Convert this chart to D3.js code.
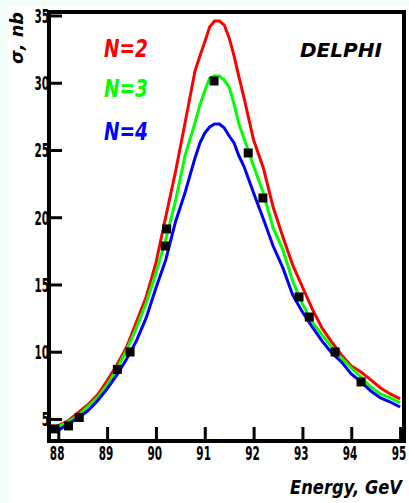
<!DOCTYPE html>
<html>
<head>
<meta charset="utf-8">
<script src="https://cdn.jsdelivr.net/npm/d3@7"></script>
<style>
  body { margin: 0; background: #f2fff9; }
  svg { display: block; }
</style>
</head>
<body>
<svg id="chart" width="409" height="503"></svg>
<script>
  // energies where the curves were read (GeV)
  var energy = [87.95, 88.2, 88.4, 88.6, 88.8, 89.0, 89.2, 89.4, 89.6, 89.8, 90.0,
                90.2, 90.4, 90.6, 90.8, 90.9, 91.0, 91.1, 91.2, 91.3, 91.4, 91.5,
                91.6, 91.7, 91.8, 92.0, 92.2, 92.4, 92.6, 92.8, 93.0, 93.2, 93.4,
                93.6, 93.8, 94.0, 94.2, 94.4, 94.6, 94.8, 95.0];

  // cross section, nb
  var sigmaN2 = [4.41, 4.85, 5.45, 6.04, 6.78, 7.83, 9.01, 10.35, 12.21, 14.07, 16.60,
                 20.02, 23.36, 27.08, 30.87, 31.99, 33.03, 34.14, 34.59, 34.59, 34.29, 33.33,
                 31.99, 30.43, 28.94, 25.74, 23.66, 20.76, 18.53, 16.45, 14.81, 13.18, 11.77,
                 10.72, 9.76, 8.94, 8.49, 7.90, 7.30, 6.86, 6.49];
  var sigmaN3 = [4.33, 4.78, 5.22, 5.89, 6.56, 7.53, 8.72, 10.13, 11.77, 13.62, 15.86,
                 18.31, 21.21, 24.63, 27.01, 28.35, 29.39, 30.35, 30.50, 30.50, 30.20, 29.68,
                 28.42, 26.93, 25.89, 23.81, 21.80, 19.20, 17.57, 15.26, 13.55, 12.21, 11.25,
                 10.35, 9.54, 8.79, 8.12, 7.38, 6.86, 6.56, 6.19];
  var sigmaN4 = [4.03, 4.63, 5.07, 5.59, 6.34, 7.23, 8.27, 9.46, 10.80, 12.51, 14.74,
                 16.82, 19.65, 21.88, 24.41, 25.52, 26.26, 26.71, 26.93, 26.93, 26.64, 26.04,
                 25.52, 24.55, 23.81, 21.80, 19.87, 17.86, 16.23, 14.22, 12.96, 11.84, 10.80,
                 9.91, 9.24, 8.35, 7.75, 7.08, 6.56, 6.26, 5.89];

  // measured points
  var dataE     = [87.93, 88.21, 88.43, 89.21, 89.47, 90.22, 90.19, 91.19, 91.89, 92.19, 92.93, 93.14, 93.67, 94.20];
  var dataSigma = [4.26, 4.48, 5.11, 8.68, 9.98, 19.13, 17.86, 30.13, 24.78, 21.43, 14.07, 12.58, 9.98, 7.75];

  var xTicks = [88, 89, 90, 91, 92, 93, 94, 95];
  var yTicks = [5, 10, 15, 20, 25, 30, 35];
  var curveNames = ["N=2", "N=3", "N=4"];
  var curveColors = ["#ff0000", "#00ff00", "#0000ff"];

  var svg = d3.select("#chart");

  svg.append("rect")
      .attr("x", 8).attr("y", 6)
      .attr("width", 401).attr("height", 497)
      .attr("fill", "#ffffff");

  var xScale = d3.scaleLinear().domain([87.81, 95.08]).range([49, 404]);
  var yScale = d3.scaleLinear().domain([3.36, 35.26]).range([441, 12]);

  ////// curves /////////////
  var line = d3.line()
      .x(function(d) { return xScale(d.e); })
      .y(function(d) { return yScale(d.s); });

  [sigmaN2, sigmaN3, sigmaN4].forEach(function(series, i) {
    var pts = energy.map(function(e, j) { return {e: e, s: series[j]}; });
    svg.append("path")
        .datum(pts)
        .attr("fill", "none")
        .attr("stroke", curveColors[i])
        .attr("stroke-width", 3)
        .attr("d", line);
  });

  // data points
  svg.append("g")
      .selectAll("rect")
      .data(dataE)
      .enter()
      .append("rect")
      .attr("x", function(d) { return xScale(d) - 4.5; })
      .attr("y", function(d, i) { return yScale(dataSigma[i]) - 4.5; })
      .attr("width", 9)
      .attr("height", 9)
      .attr("fill", "#000");

  ////// axes /////////////
  var xMinor = d3.range(87.8, 95.05, 0.2).filter(function(v) {
    return Math.abs(v - Math.round(v)) > 0.05;
  });
  var yMinor = d3.range(4, 35.5, 1).filter(function(v) { return v % 5 != 0; });

  var gx = svg.append("g").attr("transform", "translate(0,441)");
  gx.call(d3.axisBottom(xScale).tickValues(xMinor).tickSize(-7).tickFormat(""));
  gx.call(d3.axisBottom(xScale).tickValues(xTicks).tickSize(-14).tickFormat(d3.format("d")));

  var gy = svg.append("g").attr("transform", "translate(49,0)");
  gy.call(d3.axisLeft(yScale).tickValues(yMinor).tickSize(-6).tickFormat(""));
  gy.call(d3.axisLeft(yScale).tickValues(yTicks).tickSize(-13).tickFormat(d3.format("d")));

  svg.selectAll(".domain").remove();
  svg.selectAll(".tick line").attr("stroke", "#000").attr("stroke-width", 3);
  svg.selectAll(".tick text")
      .attr("fill", "#000")
      .style("font-family", "'DejaVu Sans', sans-serif")
      .style("font-weight", "bold")
      .style("font-size", "19px");
  // squeeze the digits like the narrow bitmap font of the original
  gx.selectAll(".tick text")
      .attr("x", -3).attr("y", 4).attr("dy", "0.8em")
      .attr("transform", "scale(0.55,1)");
  gy.selectAll(".tick text")
      .attr("x", 0).attr("dy", "0.36em")
      .attr("transform", "scale(0.55,1)");

  // frame
  svg.append("rect")
      .attr("x", 49).attr("y", 12)
      .attr("width", 355).attr("height", 429)
      .attr("fill", "none")
      .attr("stroke", "#000")
      .attr("stroke-width", 4);

  ////// labels /////////////
  function label(txt, x, y, size, len, color, anchor, rot) {
    var t = svg.append("text")
        .attr("x", 0).attr("y", 0)
        .attr("fill", color || "#000")
        .attr("text-anchor", anchor || "start")
        .style("font-family", "'DejaVu Sans', sans-serif")
        .style("font-weight", "bold")
        .style("font-style", "italic")
        .style("font-size", size + "px")
        .text(txt);
    var k = len / t.node().getComputedTextLength();
    t.attr("transform", "translate(" + x + "," + y + ")" + (rot ? " rotate(" + rot + ")" : "") + " scale(" + k + ",1)");
    return t;
  }

  curveNames.forEach(function(n, i) {
    label(n, 104, [57, 97, 140][i], 24, 44, curveColors[i]);
  });
  label("DELPHI", 300, 57, 20, 82);
  label("Energy, GeV", 402, 494, 20, 112, "#000", "end");
  label("σ, nb", 23, 12, 18, 52, "#000", "end", -90);
</script>
</body>
</html>
